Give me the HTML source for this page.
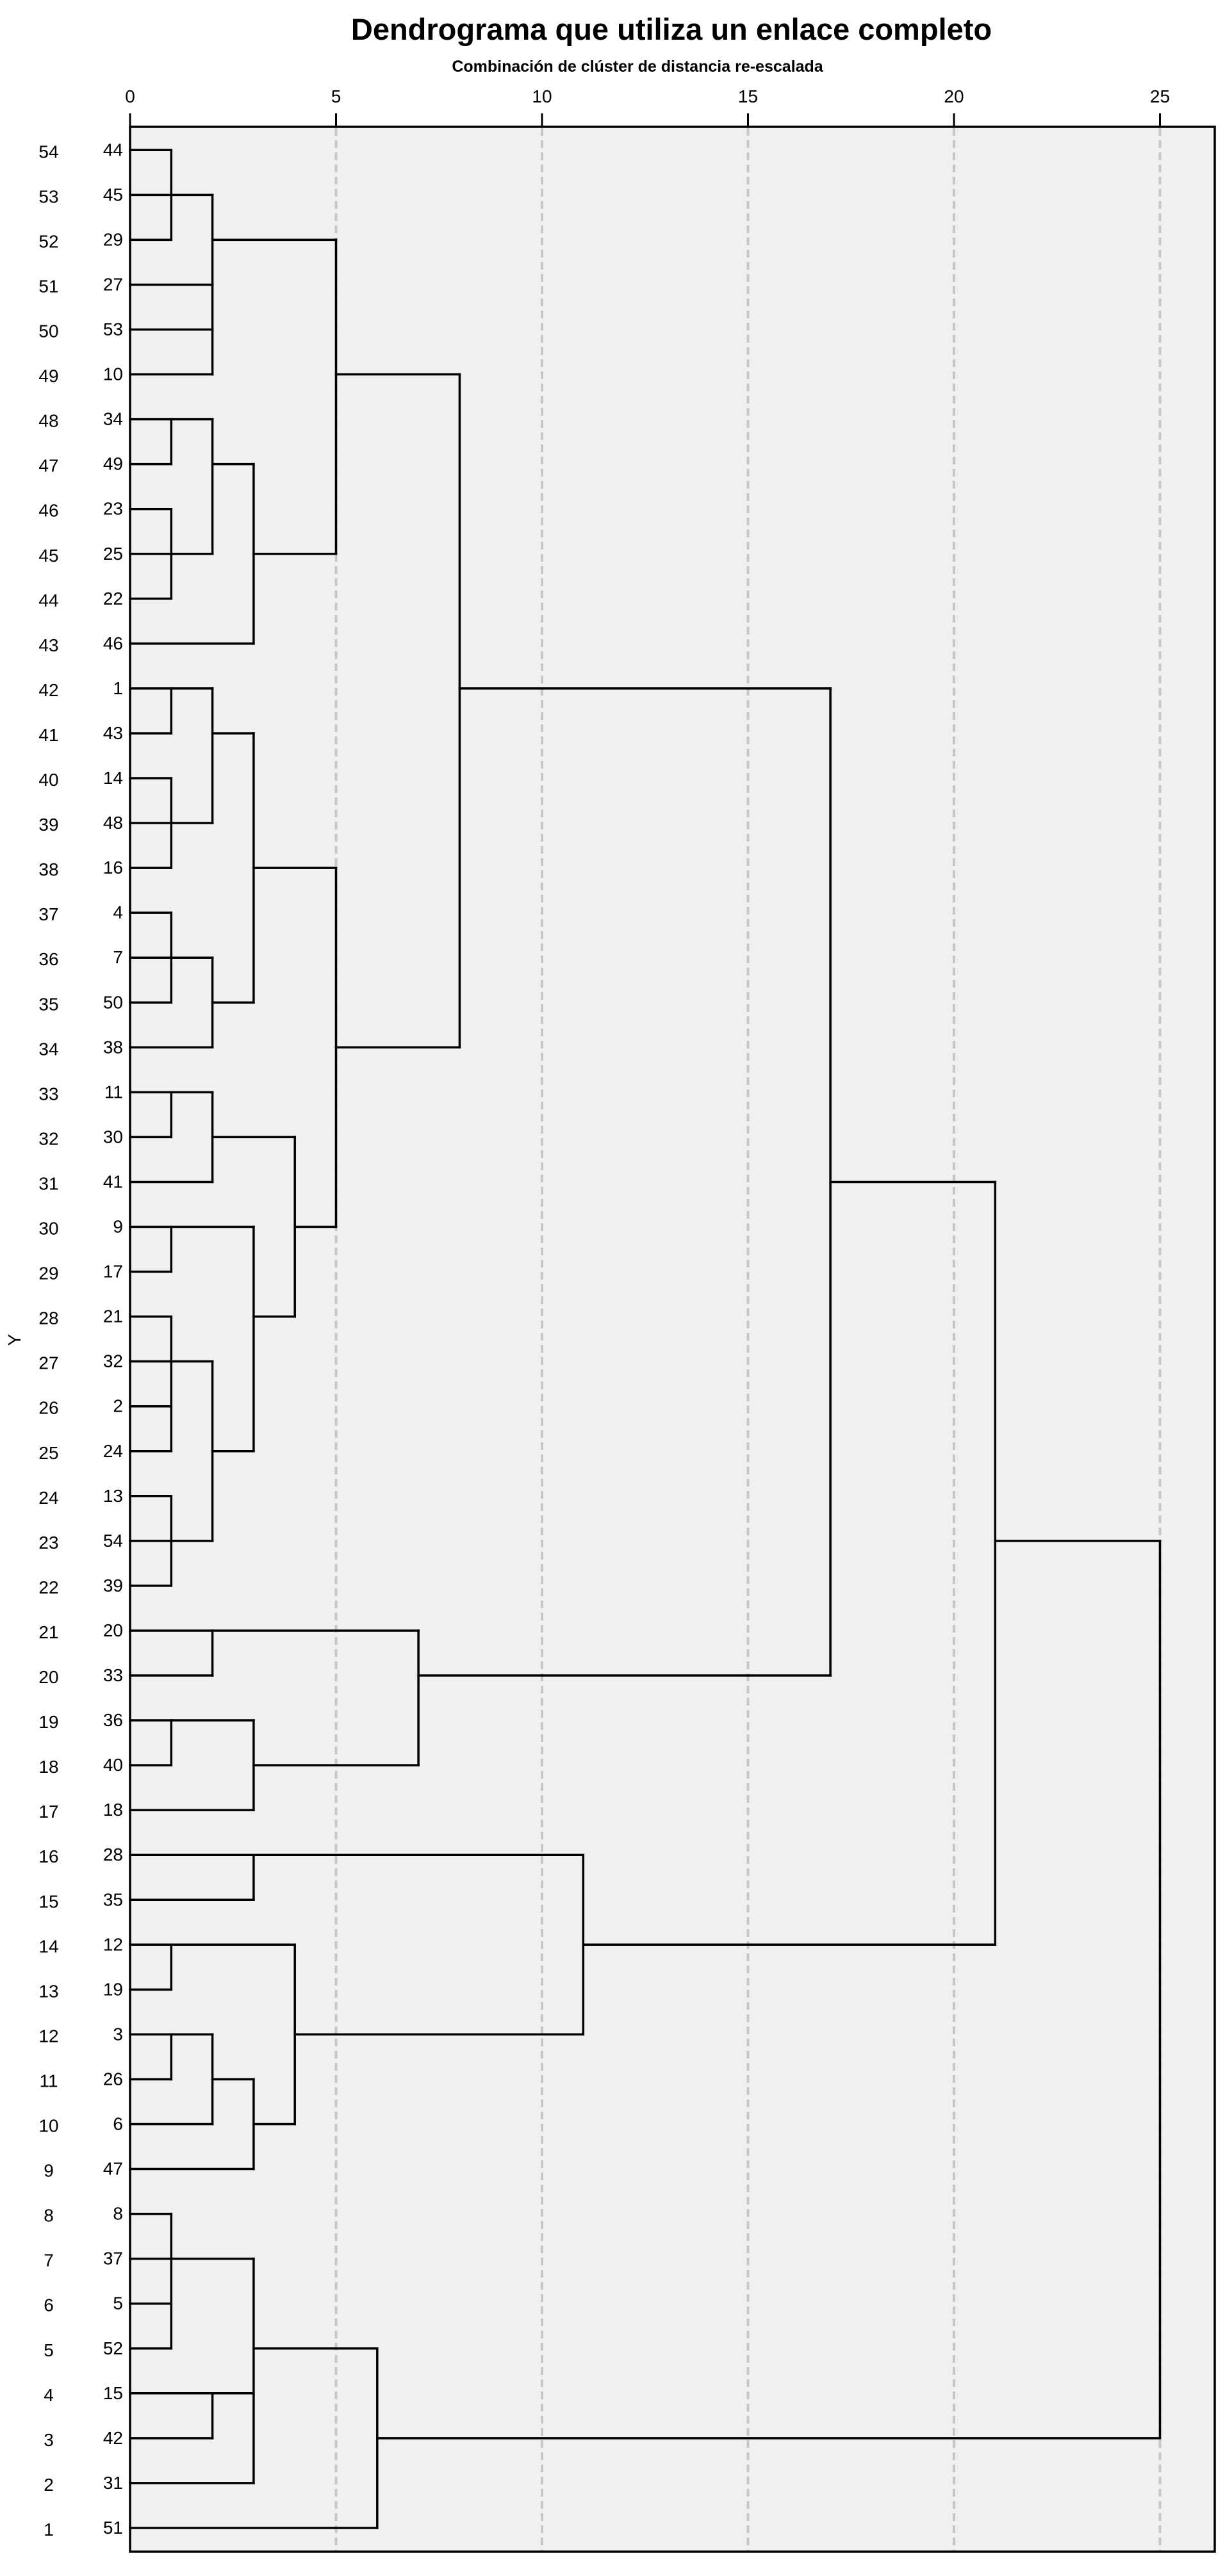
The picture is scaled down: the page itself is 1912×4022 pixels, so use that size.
<!DOCTYPE html>
<html><head><meta charset="utf-8"><style>
html,body{margin:0;padding:0;background:#fff;}
svg{display:block;}
text{font-family:"Liberation Sans",Arial,sans-serif;fill:#000;}
</style></head><body>
<svg id="s" width="1912" height="4022" xmlns="http://www.w3.org/2000/svg">
<rect x="0" y="0" width="1912" height="4022" fill="#fff"/>
<text x="1048" y="62" font-size="47" font-weight="bold" text-anchor="middle">Dendrograma que utiliza un enlace completo</text>
<text x="995" y="112" font-size="25" font-weight="bold" text-anchor="middle">Combinación de clúster de distancia re-escalada</text>
<rect x="203" y="198" width="1693" height="3786" fill="#f0f0f0"/>
<g id="grid" stroke="#c6c6c6" stroke-width="4" stroke-dasharray="12,7"></g>
<g id="ticks" stroke="#000" stroke-width="3"></g>
<g id="tree" stroke="#000" stroke-width="3.5" fill="none" stroke-linecap="square"></g>
<rect x="203" y="198" width="1693" height="3786" fill="none" stroke="#000" stroke-width="3.5"/>
<g id="labels" font-size="28"></g>
<text x="0" y="0" font-size="28" text-anchor="middle" transform="translate(32,2092) rotate(-90)">Y</text>
</svg>
<script>
var NS="http://www.w3.org/2000/svg";
function X(d){return 203+d*64.3;}
function Y(r){return 234.3+r*70.05;}
function el(p,t,a,txt){var e=document.createElementNS(NS,t);for(var k in a)e.setAttribute(k,a[k]);if(txt!==undefined)e.textContent=txt;document.getElementById(p).appendChild(e);}
for(var d=0;d<=25;d+=5){
 if(d>0) el("grid","line",{x1:X(d),y1:200,x2:X(d),y2:3982});
 el("ticks","line",{x1:X(d),y1:177,x2:X(d),y2:198});
 el("labels","text",{x:X(d),y:160,"text-anchor":"middle"},String(d));
}
var leaves=[44,45,29,27,53,10,34,49,23,25,22,46,1,43,14,48,16,4,7,50,38,11,30,41,9,17,21,32,2,24,13,54,39,20,33,36,40,18,28,35,12,19,3,26,6,47,8,37,5,52,15,42,31,51];
for(var r=0;r<54;r++){
 el("labels","text",{x:192,y:Y(r)+9,"text-anchor":"end"},String(leaves[r]));
 el("labels","text",{x:76,y:Y(r)+12,"text-anchor":"middle"},String(54-r));
}
var H=[
[0,0,1],[1,0,2],[2,0,1],[3,0,2],[4,0,2],[5,0,2],[2,2,5],[5,5,8],
[6,0,2],[7,0,1],[8,0,1],[9,0,2],[10,0,1],[7,2,3],[11,0,3],[9,3,5],
[12,0,2],[13,0,1],[13,2,3],[14,0,1],[15,0,2],[16,0,1],[16,3,5],
[17,0,1],[18,0,2],[19,0,1],[20,0,2],[19,2,3],[20,5,8],[12,8,17],
[21,0,2],[22,0,1],[23,0,2],[22,2,4],[24,4,5],
[24,0,3],[25,0,1],[26,3,4],[26,0,1],[27,0,2],[28,0,1],[29,0,1],[29,2,3],
[30,0,1],[31,0,2],[32,0,1],
[33,0,7],[34,0,2],[35,0,3],[36,0,1],[36,3,7],[37,0,3],[34,7,17],[23,17,21],
[38,0,11],[39,0,3],[40,0,4],[41,0,1],[42,0,2],[43,0,1],[43,2,3],[44,0,2],[44,3,4],[45,0,3],[42,4,11],[40,11,21],[31,21,25],
[46,0,1],[47,0,3],[48,0,1],[49,0,1],[49,3,6],[50,0,3],[51,0,2],[52,0,3],[53,0,6],[51,6,25]
];
var V=[
[1,0,2],[2,1,5],[5,2,9],[1,6,7],[2,6,9],[1,8,10],[3,7,11],[8,5,20],
[1,12,13],[2,12,15],[1,14,16],[3,13,19],[1,17,19],[2,18,20],[5,16,24],
[1,21,22],[2,21,23],[4,22,26],[1,24,25],[3,24,29],[1,26,29],[2,27,31],[1,30,32],
[2,33,34],[1,35,36],[3,35,37],[7,33,36],[17,12,34],
[3,38,39],[11,38,42],[1,40,41],[4,40,44],[1,42,43],[2,42,44],[3,43,45],[21,23,40],
[1,46,49],[3,47,52],[2,50,51],[6,49,53],[25,31,51]
];
H.forEach(function(h){el("tree","line",{x1:X(h[1]),y1:Y(h[0]),x2:X(h[2]),y2:Y(h[0])});});
V.forEach(function(v){el("tree","line",{x1:X(v[0]),y1:Y(v[1]),x2:X(v[0]),y2:Y(v[2])});});
</script>
</body></html>
